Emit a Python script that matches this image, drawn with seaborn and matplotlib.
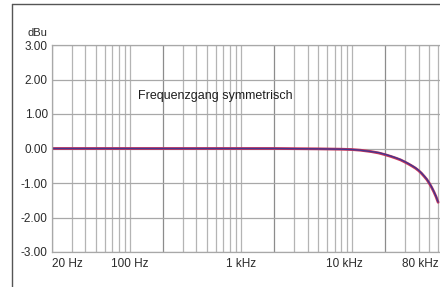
import numpy as np
import pandas as pd
import seaborn as sns
import matplotlib.pyplot as plt
import matplotlib.transforms as mtransforms
from matplotlib.lines import Line2D

# values
freq_hz = [20, 50, 100, 200, 500, 1000, 2000, 5000, 8000, 10000, 12000, 15000,
           17500, 20000, 22500, 25000, 27500, 30000, 32500, 35000, 37500, 40000,
           42500, 45000, 47500, 50000, 52500, 55000, 57500, 60000]
level_red = [0, 0, 0, 0, 0, 0, 0, -0.01, -0.02, -0.03, -0.05, -0.09,
             -0.13, -0.18, -0.23, -0.28, -0.33, -0.39, -0.45, -0.51, -0.57, -0.64,
             -0.72, -0.81, -0.90, -1.01, -1.13, -1.26, -1.40, -1.56]
level_blue = [0, 0, 0, 0, 0, 0, 0, -0.01, -0.02, -0.03, -0.05, -0.09,
              -0.12, -0.17, -0.22, -0.27, -0.32, -0.38, -0.44, -0.50, -0.56, -0.63,
              -0.71, -0.80, -0.89, -1.00, -1.12, -1.25, -1.39, -1.55]
x_ticks = [20, 100, 1000, 10000, 80000]
x_ticklabels = ["20 Hz", "100 Hz", "1 kHz", "10 kHz", "80 kHz"]
y_ticks = [-3, -2, -1, 0, 1, 2, 3]
title = "Frequenzgang symmetrisch"

df = pd.DataFrame({"freq": freq_hz * 2,
                   "level": level_red + level_blue,
                   "channel": ["red"] * len(freq_hz) + ["blue"] * len(freq_hz)})

sns.set_style("white")
plt.rcParams["font.family"] = ["Liberation Sans", "DejaVu Sans"]

fig = plt.figure(figsize=(4.4, 2.87), dpi=100)
ax = fig.add_axes([52 / 440, 1 - 252 / 287, 400 / 440, 207 / 287])

# grid lines: decades plus 2..9 multiples
minor = [m * 10 ** e for e in range(1, 5) for m in range(2, 10)
         if 20 <= m * 10 ** e <= 80000]
for f in minor + [100, 1000, 10000]:
    dark = str(int(f))[0] == "2"
    ax.axvline(f, color="#8c8c8c" if dark else "#b4b4b4", lw=0.9, zorder=0)
for v in y_ticks:
    ax.axhline(v, color="#a8a8a8", lw=0.9, zorder=0)

sns.lineplot(data=df[df.channel == "red"], x="freq", y="level", color="#c8365a",
             lw=2.0, ax=ax, legend=False)
sns.lineplot(data=df[df.channel == "blue"], x="freq", y="level", color="#44358f",
             lw=1.0, ax=ax, legend=False)

ax.set_xscale("log")
ax.set_xlim(20, 80000)
ax.set_ylim(-3, 3)
ax.set_xlabel("")
ax.set_ylabel("")
ax.minorticks_off()
ax.set_xticks(x_ticks)
ax.set_xticklabels(x_ticklabels)
ax.set_yticks(y_ticks)
ax.set_yticklabels([f"{v:.2f}" for v in y_ticks])
ax.tick_params(axis="x", length=0, pad=4, labelsize=8.5, colors="#2a2a2a")
ax.tick_params(axis="y", length=2, pad=1, labelsize=8.5, colors="#2a2a2a", color="#a8a8a8")
for s in ax.spines.values():
    s.set_color("#a8a8a8")
    s.set_linewidth(0.9)

# nudge x labels as in the original layout
offsets = [0, 0, 0, -7, -32]
labels = ax.get_xticklabels()
labels[0].set_ha("left")
for lab, dx in zip(labels, offsets):
    if dx:
        lab.set_transform(lab.get_transform() +
                          mtransforms.ScaledTranslation(dx / 100, 0, fig.dpi_scale_trans))

ax.text(118, 1.53, title, fontsize=9, color="#1e1e1e", va="center", ha="left")
fig.text(27 / 440, 1 - 33 / 287, "dBu", fontsize=8, color="#2a2a2a", va="center", ha="left")

# outer frame (cropped on the right and bottom)
fig.add_artist(Line2D([12 / 440, 12 / 440], [0, 1 - 4 / 287], transform=fig.transFigure,
                      color="#555555", lw=1))
fig.add_artist(Line2D([12 / 440, 1], [1 - 4 / 287, 1 - 4 / 287], transform=fig.transFigure,
                      color="#555555", lw=1))

fig.savefig("out.png", dpi=100)
